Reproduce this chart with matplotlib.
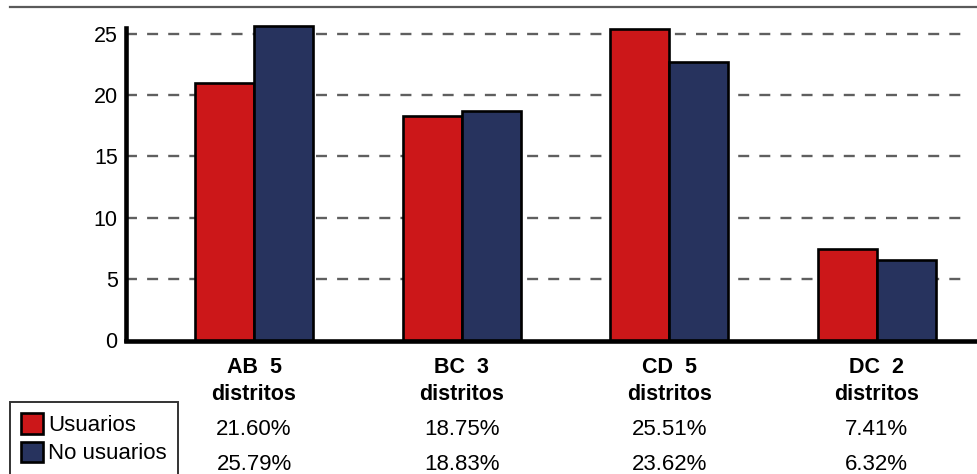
import matplotlib
matplotlib.use('Agg')
import matplotlib.pyplot as plt
from matplotlib import transforms
from matplotlib.lines import Line2D

plt.rcParams['font.family'] = ['Liberation Sans', 'DejaVu Sans']
plt.rcParams['lines.scale_dashes'] = False

# data
zonas = ['AB  5', 'BC  3', 'CD  5', 'DC  2']
subtitulo = 'distritos'
usuarios = [21.0, 18.3, 25.4, 7.4]       # bar heights
no_usuarios = [25.7, 18.7, 22.7, 6.5]
usuarios_txt = ['21.60%', '18.75%', '25.51%', '7.41%']   # table row text
no_usuarios_txt = ['25.79%', '18.83%', '23.62%', '6.32%']
yticks = [0, 5, 10, 15, 20, 25]

rojo = '#cc1719'
azul = '#27335e'

W, H = 978, 474
fig = plt.figure(figsize=(W / 100, H / 100), dpi=100)
ax = fig.add_axes([126 / W, 1 - 340 / H, 1 - 126 / W, (340 - 28) / H])

x = list(range(len(zonas)))
w = 0.284
b1 = ax.bar([i - w / 2 for i in x], usuarios, w, color=rojo, edgecolor='black',
            linewidth=1.9, zorder=3, clip_on=False, label='Usuarios')
b2 = ax.bar([i + w / 2 for i in x], no_usuarios, w, color=azul, edgecolor='black',
            linewidth=1.9, zorder=3, clip_on=False, label='No usuarios')

for v in yticks[1:]:
    ax.axhline(v, xmin=0, xmax=(968 - 126) / (978 - 126), color='#5f5f5f',
               linewidth=1.7, linestyle=(0, (7.9, 7.3)), zorder=1)

ax.set_xlim(-0.617, 3.488)
ax.set_ylim(0, 25.5)
ax.set_yticks(yticks)
ax.set_xticks([])
ax.tick_params(axis='y', length=0, pad=6, labelsize=15.5)

for s in ['top', 'right']:
    ax.spines[s].set_visible(False)
ax.spines['left'].set_linewidth(3.3)
ax.spines['bottom'].set_linewidth(3.3)
ax.spines['bottom'].set_position(('data', -0.1))

# x labels and table rows
tr = transforms.blended_transform_factory(ax.transData, fig.transFigure)
for i in x:
    ax.text(i, 1 - 373 / H, zonas[i], transform=tr, ha='center', va='baseline',
            fontsize=15.5, fontweight='bold')
    ax.text(i, 1 - 400 / H, subtitulo, transform=tr, ha='center', va='baseline',
            fontsize=15.5, fontweight='bold')
    ax.text(i, 1 - 435 / H, usuarios_txt[i], transform=tr, ha='center',
            va='baseline', fontsize=16)
    ax.text(i, 1 - 470 / H, no_usuarios_txt[i], transform=tr, ha='center',
            va='baseline', fontsize=16)

leg = fig.legend(handles=[b1, b2], loc='upper left',
                 bbox_to_anchor=(10 / W, 1 - 402 / H), borderaxespad=0,
                 fontsize=16, frameon=True, fancybox=False, edgecolor='black',
                 handlelength=1.0, handleheight=1.05, handletextpad=0.2,
                 borderpad=0.5, labelspacing=0.25)
leg.get_frame().set_linewidth(1.4)

# gray line on top
fig.add_artist(Line2D([10 / W, 1], [1 - 7 / H, 1 - 7 / H], color='#5a5a5a',
                      linewidth=1.6))

fig.savefig('out.png', dpi=100)
